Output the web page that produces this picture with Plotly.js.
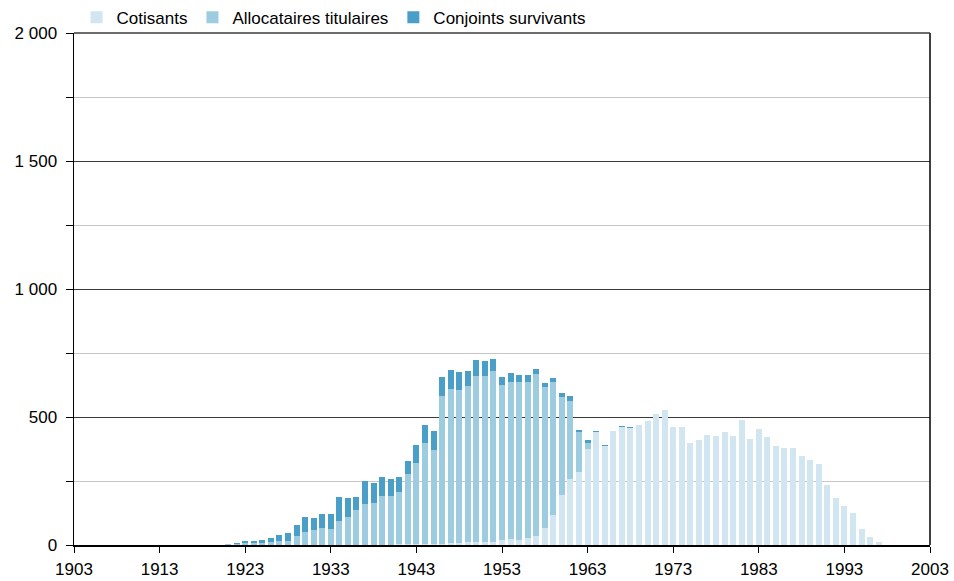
<!DOCTYPE html>
<html>
<head>
<meta charset="utf-8">
<script src="https://cdn.plot.ly/plotly-3.0.1.min.js"></script>
<style>html,body{margin:0;padding:0;background:#fff}#chart{width:954px;height:581px}</style>
</head>
<body>
<div id="chart"></div>
<script>
// Years of birth
const years = [];
for (let y = 1921; y <= 1997; y++) years.push(y);

// Total bar height (all three series stacked)
const totals = [
  5, 8, 15, 15, 18, 28, 39, 48, 79, 110,          // 1921-1930
  105, 122, 120, 186, 182, 189, 250, 244, 266, 258, // 1931-1940
  266, 329, 390, 467, 444, 657, 684, 675, 678, 724, // 1941-1950
  717, 727, 656, 672, 663, 663, 689, 633, 652, 595, // 1951-1960
  582, 451, 409, 447, 391, 447, 463, 461, 470, 486, // 1961-1970
  513, 527, 460, 460, 400, 412, 430, 424, 443, 427, // 1971-1980
  490, 416, 453, 420, 386, 380, 377, 346, 333, 316, // 1981-1990
  234, 185, 154, 124, 62, 31, 13                    // 1991-1997
];

// Top of the "Allocataires titulaires" segment (cotisants + allocataires)
const allocTop = [
  2, 3, 6, 6, 7, 12, 15, 14, 34, 49,
  60, 66, 61, 95, 110, 136, 161, 166, 193, 193,
  209, 276, 322, 397, 373, 582, 611, 605, 621, 659,
  661, 680, 625, 638, 635, 635, 667, 616, 637, 577,
  563, 441, 400, 441, 386, 444, 460, 457, 470, 486,
  513, 527, 460, 460, 400, 412, 430, 424, 443, 427,
  490, 416, 453, 420, 386, 380, 377, 346, 333, 316,
  234, 185, 154, 124, 62, 31, 13
];

// Cotisants
const cotisants = [
  0, 0, 0, 0, 0, 0, 0, 0, 0, 0,
  0, 0, 0, 0, 0, 0, 0, 0, 1, 1,
  2, 2, 3, 3, 4, 5, 6, 8, 10, 12,
  12, 10, 18, 22, 18, 26, 35, 68, 118, 195,
  256, 284, 375, 440, 385, 444, 460, 457, 470, 486,
  513, 527, 460, 460, 400, 412, 430, 424, 443, 427,
  490, 416, 453, 420, 386, 380, 377, 346, 333, 316,
  234, 185, 154, 124, 62, 31, 13
];

const allocataires = allocTop.map((v, i) => Math.max(0, v - cotisants[i]));
const conjoints = totals.map((v, i) => Math.max(0, v - allocTop[i]));

const seriesNames = ["Cotisants", "Allocataires titulaires", "Conjoints survivants"];
const seriesColors = ["#d2e6f1", "#9dcbe0", "#4a9fc8"];

const xTicks = [1903, 1913, 1923, 1933, 1943, 1953, 1963, 1973, 1983, 1993, 2003];
const yTickVals = [0, 500, 1000, 1500, 2000];
const yTickText = ["0", "500", "1 000", "1 500", "2 000"];

const FONT = "'Liberation Sans Narrow', 'Arial Narrow', 'Liberation Sans', Arial, sans-serif";

const data = [cotisants, allocataires, conjoints].map((vals, i) => ({
  type: "bar",
  x: years,
  y: vals,
  name: seriesNames[i],
  marker: { color: seriesColors[i], line: { width: 0 } },
  hoverinfo: "x+y+name"
}));

const layout = {
  width: 954,
  height: 581,
  margin: { l: 74, r: 24, t: 33, b: 36, autoexpand: false },
  barmode: "stack",
  bargap: 0.3,
  paper_bgcolor: "#ffffff",
  plot_bgcolor: "#ffffff",
  font: { family: FONT, size: 17, color: "#000" },
  showlegend: true,
  legend: {
    orientation: "h",
    x: 0.003, xanchor: "left",
    y: 1.03, yanchor: "middle",
    traceorder: "normal",
    font: { family: FONT, size: 17, color: "#000" },
    itemwidth: 30,
    bgcolor: "rgba(0,0,0,0)"
  },
  xaxis: {
    range: [1903, 2003],
    tickmode: "array",
    tickvals: xTicks,
    ticktext: xTicks.map(String),
    ticks: "outside",
    ticklen: 6,
    tickcolor: "#000",
    showline: true,
    linecolor: "#000",
    linewidth: 1.5,
    showgrid: false,
    zeroline: false,
    mirror: false,
    ticklabelstandoff: 2,
    tickfont: { family: FONT, size: 17, color: "#000" }
  },
  yaxis: {
    range: [0, 2000],
    tickmode: "array",
    tickvals: yTickVals,
    ticktext: yTickText,
    ticks: "outside",
    ticklen: 7,
    tickcolor: "#000",
    showline: true,
    linecolor: "#000",
    linewidth: 1.5,
    showgrid: true,
    gridcolor: "#3a3a3a",
    gridwidth: 1,
    zeroline: false,
    ticklabelstandoff: 5,
    tickfont: { family: FONT, size: 17, color: "#000" },
    minor: {
      tickmode: "linear",
      tick0: 0,
      dtick: 250,
      ticks: "outside",
      ticklen: 7,
      tickcolor: "#000",
      showgrid: true,
      gridcolor: "#c8c8c8",
      gridwidth: 1
    }
  },
  shapes: [
    { type: "line", xref: "paper", yref: "paper", x0: 1, x1: 1, y0: 0, y1: 1,
      line: { color: "#000", width: 1.5 } },
    { type: "line", xref: "paper", yref: "paper", x0: 0, x1: 1, y0: 1, y1: 1,
      line: { color: "#3a3a3a", width: 1.5 } }
  ]
};

Plotly.newPlot("chart", data, layout, { displayModeBar: false, staticPlot: true });
</script>
</body>
</html>
